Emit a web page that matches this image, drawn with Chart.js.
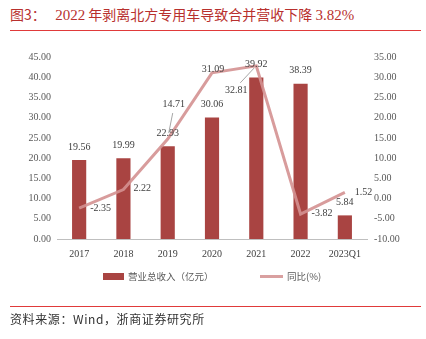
<!DOCTYPE html>
<html><head><meta charset="utf-8">
<script src="https://cdn.jsdelivr.net/npm/chart.js@4/dist/chart.umd.min.js"></script>
<style>
html,body{margin:0;padding:0;background:#fff;width:426px;height:339px;overflow:hidden;}
body{position:relative;font-family:"Noto Sans CJK SC",sans-serif;}
#title{position:absolute;left:10px;top:4px;font-size:14px;color:#b8302e;white-space:nowrap;line-height:20px;}
#title .num{font-family:"Liberation Serif",serif;font-size:15px;}
.rule{position:absolute;left:10px;width:411px;height:1px;background:#e03a3a;}
#chartWrap{position:absolute;left:0;top:40px;width:426px;height:230px;}
#legend{position:absolute;top:268px;left:0;width:426px;height:16px;font-size:9.5px;color:#595959;}
.sw{position:absolute;}
.lt{position:absolute;top:1px;line-height:14px;white-space:nowrap;}
#source{position:absolute;left:10px;top:310px;font-size:12px;color:#333;letter-spacing:0.6px;white-space:nowrap;line-height:17px;}
</style></head>
<body>
<div id="title">图3：&nbsp;&nbsp; <span class="num">2022</span> 年剥离北方专用车导致合并营收下降 <span class="num">3.82%</span></div>
<div class="rule" style="top:30px"></div>
<div id="chartWrap"><canvas id="c" width="426" height="230"></canvas></div>
<div id="legend">
  <div class="sw" style="left:103px;top:5px;width:21px;height:7px;background:#a94442"></div>
  <div class="lt" style="left:128px">营业总收入（亿元）</div>
  <div class="sw" style="left:260px;top:7px;width:23px;height:3px;background:#d9a0a0"></div>
  <div class="lt" style="left:287px">同比(%)</div>
</div>
<div class="rule" style="top:306px"></div>
<div id="source">资料来源：Wind，浙商证券研究所</div>
<script>
const categories = ["2017","2018","2019","2020","2021","2022","2023Q1"];
const revenue = [19.56, 19.99, 22.93, 30.06, 39.92, 38.39, 5.84];
const yoy = [-2.35, 2.22, 14.71, 31.09, 32.81, -3.82, 1.52];
const leftTicks = [0,5,10,15,20,25,30,35,40,45];
const rightTicks = [-10,-5,0,5,10,15,20,25,30,35];

// label placement for the YoY labels (offsets from the point)
const yoyLabelStyle = [
  {dx:11, dy:0, align:'left'},
  {dx:10, dy:-1, align:'left'},
  {dx:6, dy:-35, align:'center', leader:[1,-6,5,-26]},
  {dx:1, dy:-3, align:'center'},
  {dx:-20, dy:25, align:'center', leader:[-2,2,-16,17]},
  {dx:11, dy:-1, align:'left'},
  {dx:10, dy:0, align:'left'}
];

const NUMFONT = '10px "Liberation Serif", serif';

const labelPlugin = {
  id:'labels',
  afterDatasetsDraw(chart){
    const ctx = chart.ctx;
    ctx.save();
    ctx.font = NUMFONT;
    ctx.fillStyle = '#404040';
    ctx.textBaseline = 'middle';
    const barMeta = chart.getDatasetMeta(0);
    barMeta.data.forEach((el,i)=>{
      ctx.textAlign='center';
      ctx.fillText(revenue[i].toFixed(2), el.x, el.y-13);
    });
    const lineMeta = chart.getDatasetMeta(1);
    lineMeta.data.forEach((el,i)=>{
      const s = yoyLabelStyle[i];
      if (s.leader){
        ctx.strokeStyle='#a6a6a6'; ctx.lineWidth=1;
        ctx.beginPath();
        ctx.moveTo(el.x+s.leader[0], el.y+s.leader[1]);
        ctx.lineTo(el.x+s.leader[2], el.y+s.leader[3]);
        ctx.stroke();
      }
      ctx.textAlign = s.align;
      ctx.fillText(yoy[i].toFixed(2), el.x+s.dx, el.y+s.dy);
    });
    ctx.restore();
  }
};

new Chart(document.getElementById('c'), {
  data:{
    labels:categories,
    datasets:[
      {type:'bar', label:'营业总收入（亿元）', data:revenue, backgroundColor:'#a94442',
       yAxisID:'y', categoryPercentage:1, barPercentage:0.32, order:2},
      {type:'line', label:'同比(%)', data:yoy, borderColor:'rgba(212,145,145,0.9)', borderWidth:3,
       pointRadius:0, tension:0, yAxisID:'y1', order:1}
    ]
  },
  options:{
    responsive:false, animation:false,
    layout:{padding:{top:17,left:0,right:0,bottom:0}},
    plugins:{legend:{display:false}, tooltip:{enabled:false}},
    scales:{
      x:{
        grid:{display:false, drawTicks:false},
        border:{display:true, color:'#bfbfbf', width:1},
        ticks:{color:'#404040', font:{family:'"Liberation Serif", serif', size:10}, padding:9, maxRotation:0},
        afterFit(s){ s.height = 31; }
      },
      y:{
        position:'left', min:0, max:45,
        afterBuildTicks(s){ s.ticks = leftTicks.map(v=>({value:v})); },
        grid:{display:false, drawTicks:false}, border:{display:false},
        ticks:{color:'#595959', font:{family:'"Liberation Serif", serif', size:10}, padding:6,
          callback:v=>v.toFixed(2)},
        afterFit(s){ s.width = 57; }
      },
      y1:{
        position:'right', min:-10, max:35,
        afterBuildTicks(s){ s.ticks = rightTicks.map(v=>({value:v})); },
        grid:{display:false, drawTicks:false}, border:{display:false},
        ticks:{color:'#595959', font:{family:'"Liberation Serif", serif', size:10}, padding:7,
          callback:v=>v.toFixed(2)},
        afterFit(s){ s.width = 59; }
      }
    }
  },
  plugins:[labelPlugin]
});
</script>
</body></html>
